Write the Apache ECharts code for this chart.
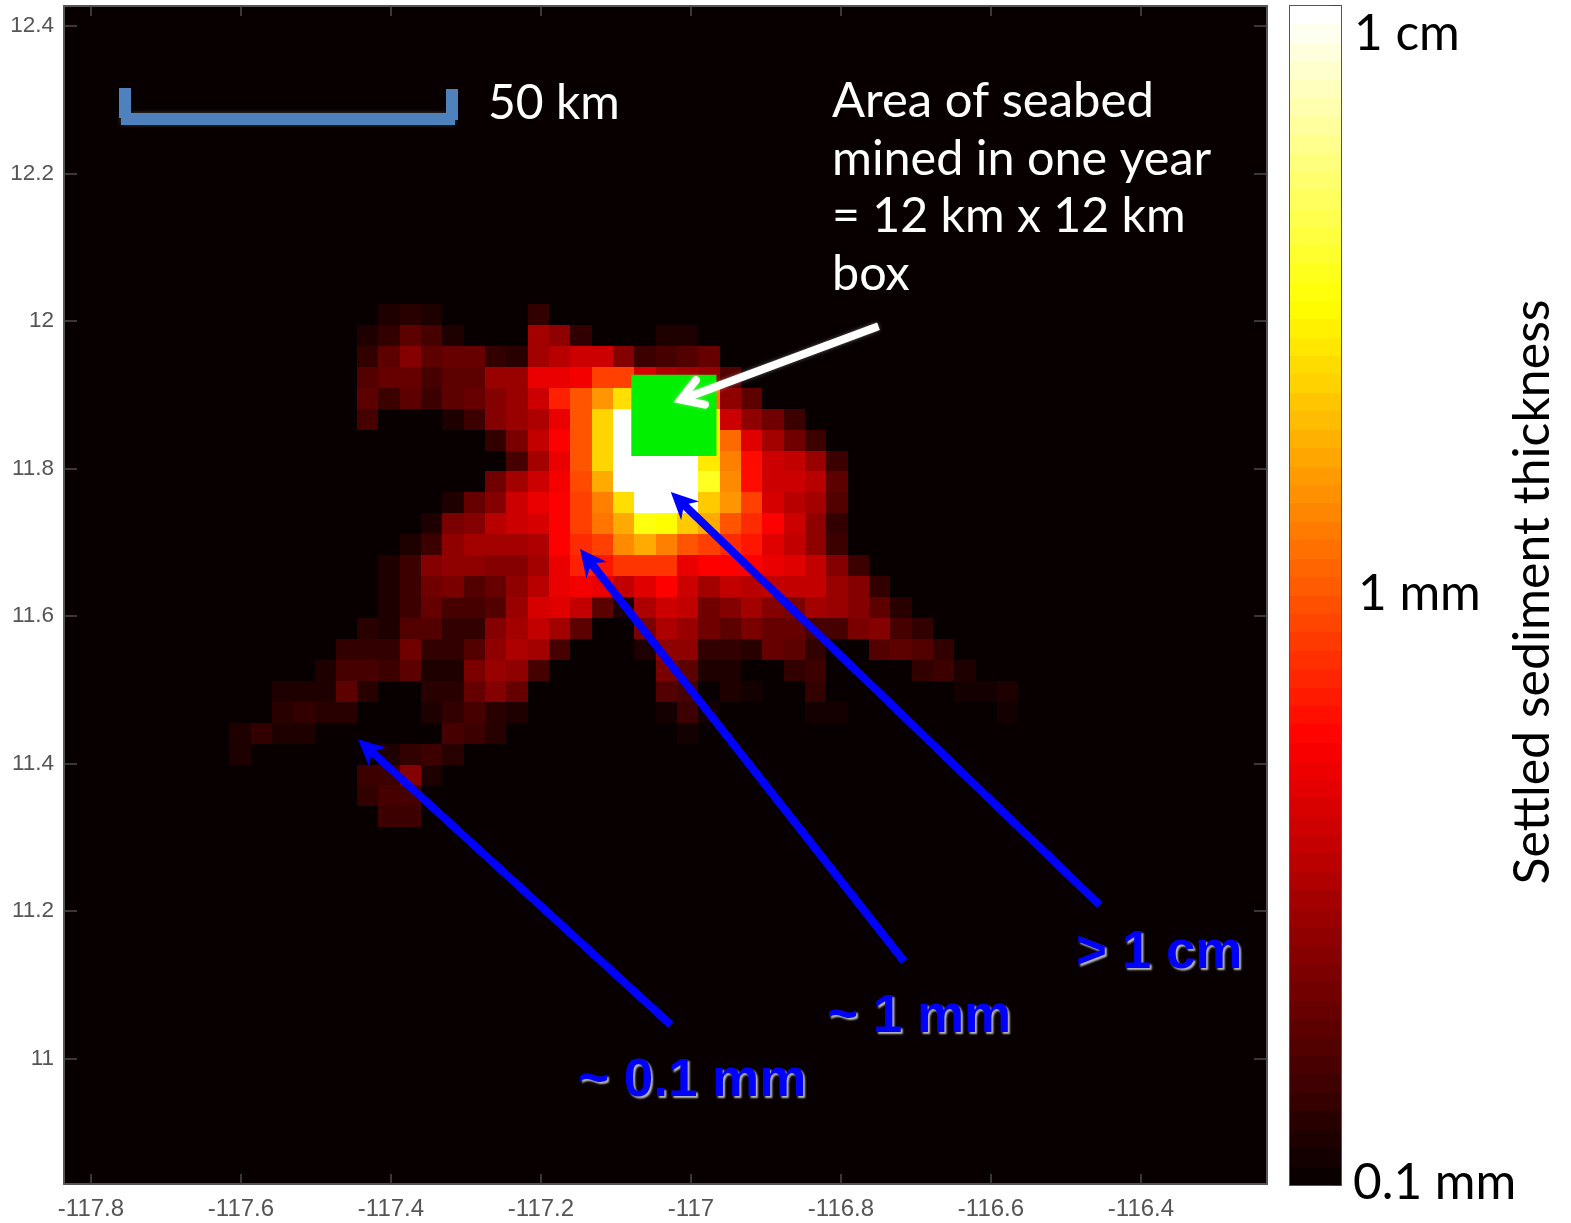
<!DOCTYPE html>
<html><head><meta charset="utf-8">
<style>html,body{margin:0;padding:0;background:#fff}#c{width:1571px;height:1223px}</style>
<script src="https://cdn.jsdelivr.net/npm/echarts@6/dist/echarts.min.js"></script>
</head><body><div id="c"></div>
<script>
// Tick labels
const lonTicks = [-117.8,-117.6,-117.4,-117.2,-117,-116.8,-116.6,-116.4];
const latTicks = [11,11.2,11.4,11.6,11.8,12,12.2,12.4];
// Cell grid: column 0 centre lon / row 0 centre lat and spacing (degrees)
const lon0 = -117.6015, lat0 = 12.0088, cellLon = 0.02843, cellLat = 0.02838;
// Settled thickness per cell as colour-scale level: 0 = 0.1 mm, 32 = 1 mm, 64 = 1 cm (log scale)
const row00 = [0,0,0,0,0,0,0,2,3,2,0,0,0,0,4,0,0,0,0,0,0,0,0,0,0,0,0,0,0,0,0,0,0,0,0,0,0];
const row01 = [0,0,0,0,0,0,2,4,8,6,2,0,0,0,15,13,4,0,0,0,2,2,0,0,0,0,0,0,0,0,0,0,0,0,0,0,0];
const row02 = [0,0,0,0,0,0,4,8,12,8,9,9,4,3,15,17,19,19,12,5,6,7,9,0,0,0,0,0,0,0,0,0,0,0,0,0,0];
const row03 = [0,0,0,0,0,0,7,9,9,6,8,8,14,14,22,22,23,30,30,20,16,15,14,7,0,0,0,0,0,0,0,0,0,0,0,0,0];
const row04 = [0,0,0,0,0,0,8,5,8,5,8,9,12,14,19,27,32,38,45,50,55,48,35,13,8,0,0,0,0,0,0,0,0,0,0,0,0];
const row05 = [0,0,0,0,0,0,6,0,0,0,2,5,12,14,16,22,32,44,64,64,64,64,46,19,13,10,5,0,0,0,0,0,0,0,0,0,0];
const row06 = [0,0,0,0,0,0,0,0,0,0,0,0,4,11,18,24,32,44,64,64,64,64,46,34,21,15,10,5,0,0,0,0,0,0,0,0,0];
const row07 = [0,0,0,0,0,0,0,0,0,0,0,0,0,6,15,22,32,44,64,64,64,64,46,36,25,19,18,14,5,0,0,0,0,0,0,0,0];
const row08 = [0,0,0,0,0,0,0,0,0,0,0,0,10,15,19,23,31,40,64,64,64,64,50,37,25,19,19,17,8,0,0,0,0,0,0,0,0];
const row09 = [0,0,0,0,0,0,0,0,0,0,2,9,12,19,22,24,30,36,45,64,64,64,43,38,30,20,17,15,7,0,0,0,0,0,0,0,0];
const row10 = [0,0,0,0,0,0,0,0,0,2,11,12,17,19,20,24,30,35,40,49,48,43,40,32,28,24,19,13,4,0,0,0,0,0,0,0,0];
const row11 = [0,0,0,0,0,0,0,0,2,5,13,15,15,15,16,24,28,30,37,40,36,32,30,28,26,21,18,13,5,0,0,0,0,0,0,0,0];
const row12 = [0,0,0,0,0,0,0,2,5,12,13,13,12,12,15,22,27,26,29,29,29,22,24,24,24,22,21,18,12,5,0,0,0,0,0,0,0];
const row13 = [0,0,0,0,0,0,0,2,5,10,11,7,9,13,17,22,23,22,18,21,24,19,15,18,17,18,18,18,14,12,4,0,0,0,0,0,0];
const row14 = [0,0,0,0,0,0,0,2,5,9,6,6,7,14,20,21,18,8,2,16,19,18,10,12,15,12,11,15,14,12,8,3,0,0,0,0,0];
const row15 = [0,0,0,0,0,0,3,2,7,7,4,4,12,15,18,15,8,0,0,11,16,14,10,8,11,9,9,6,6,11,12,6,4,0,0,0,0];
const row16 = [0,0,0,0,0,4,4,4,10,4,4,7,13,16,15,6,0,0,0,2,13,13,4,4,3,9,8,4,0,0,7,8,7,4,0,0,0];
const row17 = [0,0,0,0,2,6,6,5,8,2,2,11,14,13,6,0,0,0,0,0,11,8,2,2,0,0,4,5,0,0,0,0,4,5,2,0,0];
const row18 = [0,0,2,2,2,8,3,0,0,3,3,9,12,9,0,0,0,0,0,0,7,6,0,2,1,0,0,4,0,0,0,0,0,0,1,1,2];
const row19 = [0,0,3,4,3,3,0,0,0,2,4,6,3,2,0,0,0,0,0,0,1,5,1,0,0,0,0,1,1,0,0,0,0,0,0,0,1];
const row20 = [2,4,2,2,0,0,0,0,0,0,6,5,3,0,0,0,0,0,0,0,0,1,0,0,0,0,0,0,0,0,0,0,0,0,0,0,0];
const row21 = [2,0,0,0,0,0,0,2,4,5,3,0,0,0,0,0,0,0,0,0,0,0,0,0,0,0,0,0,0,0,0,0,0,0,0,0,0];
const row22 = [0,0,0,0,0,0,5,5,12,2,0,0,0,0,0,0,0,0,0,0,0,0,0,0,0,0,0,0,0,0,0,0,0,0,0,0,0];
const row23 = [0,0,0,0,0,0,4,6,6,0,0,0,0,0,0,0,0,0,0,0,0,0,0,0,0,0,0,0,0,0,0,0,0,0,0,0,0];
const row24 = [0,0,0,0,0,0,0,5,5,0,0,0,0,0,0,0,0,0,0,0,0,0,0,0,0,0,0,0,0,0,0,0,0,0,0,0,0];
const rows = [row00,row01,row02,row03,row04,row05,row06,row07,row08,row09,row10,row11,row12,
              row13,row14,row15,row16,row17,row18,row19,row20,row21,row22,row23,row24];
// Annotations in map coordinates [fromLon, fromLat, tipLon, tipLat]
const blueArrows = [[-117.027,11.046,-117.444,11.433],[-116.716,11.132,-117.148,11.691],[-116.455,11.208,-117.027,11.768]];
const whiteArrows = [[-116.750,11.993,-117.025,11.889]];
const minedBox = [[-117.0796,11.927,-116.966,11.817]];

// MATLAB "hot" colormap, 65 stops
const hot = [];
for (let i = 0; i <= 64; i++) {
  const r = Math.min(1, 0.04 + i/24*0.96), g = Math.max(0, Math.min(1,(i-24)/24)), b = Math.max(0,(i-48)/16);
  hot.push('rgb('+Math.round(r*255)+','+Math.round(g*255)+','+Math.round(b*255)+')');
}
const heatData = [];
rows.forEach((row,r)=>row.forEach((v,c)=>{ if(v>0) heatData.push([lon0+c*cellLon, lat0-r*cellLat, v]); }));
const barData = [];
for (let k=0;k<64;k++) barData.push([0.5,k+0.5,k*64/63]);

const tickStyle = {color:'#4a4a4a',width:1.5};
const lineStyle = {lineStyle:{color:'#555',width:2}};
const lab = {fontFamily:'"Liberation Sans",Arial,sans-serif',color:'#555'};
const lonRange={min:-117.836,max:-116.232}, latRange={min:10.83,max:12.427};

const chart = echarts.init(document.getElementById('c'),null,{renderer:'canvas'});
const rectCell = (w,h)=>function(p,api){
  const c=api.coord([api.value(0),api.value(1)]), s=api.size([w,h]);
  const x0=Math.round(c[0]-s[0]/2),x1=Math.round(c[0]+s[0]/2),y0=Math.round(c[1]-s[1]/2),y1=Math.round(c[1]+s[1]/2);
  return {type:'rect',shape:{x:x0,y:y0,width:x1-x0,height:y1-y0},style:{fill:api.visual('color')}};
};
const blueFont = 'bold 53px "Liberation Sans",Arial,sans-serif';
const blueLabel = (t,x,y)=>({type:'text',z:12,x,y,style:{text:t,fill:'#0000ff',font:blueFont,verticalAlign:'middle',textShadowColor:'#bbb',textShadowBlur:2,textShadowOffsetX:2,textShadowOffsetY:2}});
const bigLabel = (t,x,y,fill,size)=>({type:'text',z:12,x,y,style:{text:t,fill,font:size+'px Lato,sans-serif',verticalAlign:'middle'}});
chart.setOption({
  animation:false,
  backgroundColor:'#fff',
  grid:[
    {left:64,top:6,width:1203,height:1178,show:true,backgroundColor:'#080000',borderWidth:0},
    {left:1290,top:6,width:51,height:1179,show:false}
  ],
  visualMap:{show:false,seriesIndex:[0,1],dimension:2,min:0,max:64,inRange:{color:hot}},
  xAxis:[
    {type:'value',gridIndex:0,position:'bottom',...lonRange,splitLine:{show:false},axisLine:{onZero:false,...lineStyle},
     axisTick:{inside:true,length:10,customValues:lonTicks,lineStyle:tickStyle},
     axisLabel:{customValues:lonTicks,formatter:v=>String(v),fontSize:24,margin:13,...lab}},
    {type:'value',gridIndex:0,position:'top',...lonRange,splitLine:{show:false},axisLine:{onZero:false,...lineStyle},
     axisTick:{inside:true,length:10,customValues:lonTicks,lineStyle:tickStyle},axisLabel:{show:false}},
    {type:'value',gridIndex:1,position:'bottom',min:0,max:1,splitLine:{show:false},axisLine:{onZero:false,...lineStyle},axisTick:{show:false},axisLabel:{show:false}},
    {type:'value',gridIndex:1,position:'top',min:0,max:1,splitLine:{show:false},axisLine:{onZero:false,...lineStyle},axisTick:{show:false},axisLabel:{show:false}}
  ],
  yAxis:[
    {type:'value',gridIndex:0,position:'left',...latRange,splitLine:{show:false},axisLine:{onZero:false,...lineStyle},
     axisTick:{inside:true,length:13,customValues:latTicks,lineStyle:tickStyle},
     axisLabel:{customValues:latTicks,formatter:v=>String(v),fontSize:22.5,margin:10,...lab}},
    {type:'value',gridIndex:0,position:'right',...latRange,splitLine:{show:false},axisLine:{onZero:false,...lineStyle},
     axisTick:{inside:true,length:13,customValues:latTicks,lineStyle:tickStyle},axisLabel:{show:false}},
    {type:'value',gridIndex:1,position:'left',min:0,max:64,splitLine:{show:false},axisLine:{onZero:false,...lineStyle},axisTick:{show:false},axisLabel:{show:false}},
    {type:'value',gridIndex:1,position:'right',min:0,max:64,interval:6.4,splitLine:{show:false},axisLine:{onZero:false,...lineStyle},
     axisTick:{inside:true,length:10,lineStyle:{color:'#444',width:1.5}},axisLabel:{show:false}}
  ],
  series:[
    {type:'custom',xAxisIndex:0,yAxisIndex:0,data:heatData,clip:true,z:2,renderItem:rectCell(cellLon,cellLat),encode:{x:0,y:1}},
    {type:'custom',xAxisIndex:2,yAxisIndex:2,data:barData,z:2,renderItem:rectCell(1,1),encode:{x:0,y:1}},
    {type:'custom',xAxisIndex:0,yAxisIndex:0,data:minedBox,z:3,encode:{x:[0,2],y:[1,3]},
     renderItem(p,api){const a=api.coord([api.value(0),api.value(1)]),b=api.coord([api.value(2),api.value(3)]);
       return {type:'rect',shape:{x:a[0],y:a[1],width:b[0]-a[0],height:b[1]-a[1]},style:{fill:'#00f000'}};}},
    {type:'custom',xAxisIndex:0,yAxisIndex:0,data:blueArrows,z:5,encode:{x:[0,2],y:[1,3]},
     renderItem(p,api){
       const a=api.coord([api.value(0),api.value(1)]),t=api.coord([api.value(2),api.value(3)]);
       const L=Math.hypot(t[0]-a[0],t[1]-a[1]),ux=(t[0]-a[0])/L,uy=(t[1]-a[1])/L,nx=-uy,ny=ux;
       const at=(d,w)=>[t[0]-ux*d+nx*w,t[1]-uy*d+ny*w];
       const hw=4,hl=27,hh=13,nt=21;
       return {type:'polygon',shape:{points:[a.map((v,i)=>v+[nx,ny][i]*hw),at(nt,hw),at(hl,hh),t,at(hl,-hh),at(nt,-hw),a.map((v,i)=>v-[nx,ny][i]*hw)]},style:{fill:'#0000ff'}};
     }},
    {type:'custom',xAxisIndex:0,yAxisIndex:0,data:whiteArrows,z:5,encode:{x:[0,2],y:[1,3]},
     renderItem(p,api){
       const a=api.coord([api.value(0),api.value(1)]),t=api.coord([api.value(2),api.value(3)]);
       const L=Math.hypot(t[0]-a[0],t[1]-a[1]),ux=(t[0]-a[0])/L,uy=(t[1]-a[1])/L,nx=-uy,ny=ux;
       const at=(d,w)=>[t[0]-ux*d+nx*w,t[1]-uy*d+ny*w];
       const s={stroke:'#fff',lineWidth:8,fill:null,lineCap:'round',lineJoin:'miter',shadowColor:'rgba(255,255,255,.35)',shadowBlur:4};
       return {type:'group',children:[
         {type:'line',shape:{x1:a[0],y1:a[1],x2:t[0]-ux*12,y2:t[1]-uy*12},style:{...s,lineCap:'butt'}},
         {type:'polyline',shape:{points:[at(30,13),at(9,0),at(30,-13)]},style:s}
       ]};
     }}
  ],
  graphic:[
    // 50 km scale bar
    {type:'rect',z:10,shape:{x:121,y:113,width:334,height:12},style:{fill:'#4f81bd',shadowColor:'rgba(255,255,255,.25)',shadowBlur:4}},
    {type:'rect',z:11,shape:{x:119,y:88,width:12,height:30},style:{fill:'#4f81bd'}},
    {type:'rect',z:11,shape:{x:446,y:89,width:12,height:31},style:{fill:'#4f81bd'}},
    bigLabel('50 km',488,104,'#fff',48),
    bigLabel('Area of seabed',832,101,'#fff',49),
    bigLabel('mined in one year',832,159,'#fff',48.5),
    bigLabel('= 12 km x 12 km',832,216,'#fff',48.2),
    bigLabel('box',832,274,'#fff',48.5),
    blueLabel('~ 0.1 mm',578,1081),
    blueLabel('~ 1 mm',827,1017),
    blueLabel('> 1 cm',1076,953),
    bigLabel('1 cm',1354,34,'#000',49.5),
    bigLabel('1 mm',1358,594,'#000',49.5),
    bigLabel('0.1 mm',1353,1183,'#000',49.5),
    {type:'text',z:12,x:1533,y:592,rotation:Math.PI/2,style:{text:'Settled sediment thickness',fill:'#000',font:'50px Lato,sans-serif',align:'center',verticalAlign:'middle'}}
  ]
});
</script></body></html>
